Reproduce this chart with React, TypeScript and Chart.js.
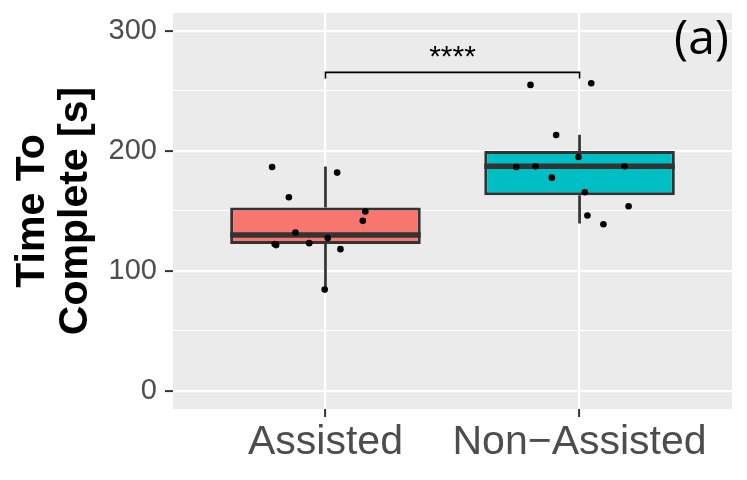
import React, { useEffect, useRef } from 'react';
import { Chart, registerables } from 'chart.js';

Chart.register(...registerables);

// ---- data ----
const CATEGORIES = ['Assisted', 'Non\u2212Assisted'];
const BOX_COLORS = ['#F8766D', '#00BFC4'];
const WHISKER_LOW = [84.5, 139.5];
const Q1 = [122.4, 163.2];
const MEDIAN = [130.0, 187.2];
const Q3 = [153.0, 200.0];
const WHISKER_HIGH = [187.0, 213.5];

const ASSISTED_X = [0.79, 0.856, 1.046, 1.157, 1.147, 0.882, 1.009, 0.8, 0.806, 0.936, 1.059, 0.997];
const ASSISTED_Y = [186.7, 161.5, 182.0, 149.6, 141.8, 132.1, 127.4, 122.4, 121.6, 123.2, 118.2, 84.5];
const NON_ASSISTED_X = [1.807, 2.046, 1.908, 1.996, 1.751, 1.827, 2.177, 1.891, 2.021, 2.193, 2.031, 2.094];
const NON_ASSISTED_Y = [255.1, 256.5, 213.3, 195.0, 186.7, 187.2, 187.2, 177.8, 165.6, 154.0, 146.3, 139.0];

const Y_MAJOR_TICKS = [0, 100, 200, 300];
const Y_MINOR_TICKS = [50, 150, 250];
const Y_MIN = -15;
const Y_MAX = 315;
const X_MIN = 0.4;
const X_MAX = 2.6;

const SIG_LABEL = '****';
const SIG_BRACKET_Y = 265.5;
const SIG_TIP_Y = 260.5;
const SIG_FROM = 1;
const SIG_TO = 2;
const PANEL_TAG = '(a)';
const Y_TITLE = ['Time To', 'Complete [s]'];

// ---- styles ----
const BOX_WIDTH = 0.75;
const DARK = '#333333';
const TICK_TEXT = '#4D4D4D';
const PANEL_BG = '#EBEBEB';

const App: React.FC = () => {
  const canvasRef = useRef<HTMLCanvasElement | null>(null);

  useEffect(() => {
    if (!canvasRef.current) return;

    const whiskerData: any[] = [];
    const medianData: any[] = [];
    CATEGORIES.forEach((_, i) => {
      const cx = i + 1;
      whiskerData.push({ x: cx, y: WHISKER_LOW[i] }, { x: cx, y: Q1[i] }, { x: cx, y: null });
      whiskerData.push({ x: cx, y: Q3[i] }, { x: cx, y: WHISKER_HIGH[i] }, { x: cx, y: null });
      medianData.push(
        { x: cx - BOX_WIDTH / 2, y: MEDIAN[i] },
        { x: cx + BOX_WIDTH / 2, y: MEDIAN[i] },
        { x: cx, y: null }
      );
    });

    const bgPlugin = {
      id: 'panelBg',
      beforeDraw(chart: any) {
        const { ctx, chartArea } = chart;
        ctx.save();
        ctx.fillStyle = PANEL_BG;
        ctx.fillRect(chartArea.left, chartArea.top, chartArea.right - chartArea.left, chartArea.bottom - chartArea.top);
        ctx.restore();
      },
      afterDatasetsDraw(chart: any) {
        const { ctx, chartArea, scales } = chart;
        ctx.save();
        ctx.fillStyle = '#000';
        ctx.font = '30px "Liberation Sans"';
        ctx.textAlign = 'center';
        ctx.textBaseline = 'alphabetic';
        ctx.fillText(
          SIG_LABEL,
          scales.x.getPixelForValue((SIG_FROM + SIG_TO) / 2),
          scales.y.getPixelForValue(SIG_BRACKET_Y) - 6
        );
        ctx.font = '48px "Open Sans"';
        ctx.textAlign = 'right';
        ctx.fillText(PANEL_TAG, chartArea.right - 3, chartArea.top + 41);
        ctx.restore();
      },
    };

    const chart = new Chart(canvasRef.current, {
      type: 'scatter',
      data: {
        datasets: [
          {
            type: 'line',
            data: whiskerData,
            borderColor: DARK,
            borderWidth: 2.7,
            pointRadius: 0,
            spanGaps: false,
            order: 5,
          } as any,
          {
            type: 'bar',
            data: CATEGORIES.map((_, i) => ({ x: i + 1, y: [Q1[i], Q3[i]] })),
            backgroundColor: BOX_COLORS,
            borderColor: DARK,
            borderWidth: 3,
            borderSkipped: false,
            categoryPercentage: BOX_WIDTH,
            barPercentage: 1,
            grouped: false,
            order: 4,
          } as any,
          {
            type: 'line',
            data: medianData,
            borderColor: DARK,
            borderWidth: 5.5,
            borderCapStyle: 'butt',
            pointRadius: 0,
            spanGaps: false,
            order: 3,
          } as any,
          {
            type: 'line',
            data: [
              { x: SIG_FROM, y: SIG_TIP_Y },
              { x: SIG_FROM, y: SIG_BRACKET_Y },
              { x: SIG_TO, y: SIG_BRACKET_Y },
              { x: SIG_TO, y: SIG_TIP_Y },
            ],
            borderColor: '#000000',
            borderWidth: 1.6,
            pointRadius: 0,
            order: 2,
          } as any,
          {
            type: 'scatter',
            data: ASSISTED_X.map((x, i) => ({ x, y: ASSISTED_Y[i] })),
            backgroundColor: '#000000',
            borderWidth: 0,
            pointRadius: 3.3,
            order: 1,
          } as any,
          {
            type: 'scatter',
            data: NON_ASSISTED_X.map((x, i) => ({ x, y: NON_ASSISTED_Y[i] })),
            backgroundColor: '#000000',
            borderWidth: 0,
            pointRadius: 3.3,
            order: 0,
          } as any,
        ],
      },
      options: {
        animation: false,
        responsive: true,
        maintainAspectRatio: false,
        events: [],
        layout: { padding: { top: 13, right: 15, left: 0, bottom: 0 } },
        plugins: {
          legend: { display: false },
          tooltip: { enabled: false },
        },
        scales: {
          x: {
            type: 'linear',
            min: X_MIN,
            max: X_MAX,
            offset: false,
            afterBuildTicks: (scale: any) => {
              scale.ticks = CATEGORIES.map((_, i) => ({ value: i + 1 }));
            },
            afterFit: (scale: any) => {
              scale.height = 71;
              scale.paddingLeft = 0;
              scale.paddingRight = 0;
            },
            border: { display: false },
            grid: {
              offset: false,
              color: '#FFFFFF',
              lineWidth: 2.2,
              drawTicks: true,
              tickLength: 8,
              tickWidth: 2,
              tickColor: DARK,
            },
            ticks: {
              autoSkip: false,
              maxRotation: 0,
              padding: 1,
              color: TICK_TEXT,
              font: { family: '"Liberation Sans"', size: 41 },
              callback: (v: any) => CATEGORIES[Math.round(Number(v)) - 1] ?? '',
            },
          },
          y: {
            type: 'linear',
            min: Y_MIN,
            max: Y_MAX,
            afterBuildTicks: (scale: any) => {
              scale.ticks = [...Y_MAJOR_TICKS, ...Y_MINOR_TICKS]
                .sort((a, b) => a - b)
                .map((value) => ({ value }));
            },
            afterFit: (scale: any) => {
              scale.width = 173;
              scale.paddingTop = 0;
              scale.paddingBottom = 0;
            },
            border: { display: false },
            grid: {
              color: '#FFFFFF',
              lineWidth: (c: any) => (Y_MAJOR_TICKS.includes(c.tick?.value) ? 2.2 : 1.1),
              drawTicks: true,
              tickLength: 8,
              tickWidth: 2,
              tickColor: (c: any) => (Y_MAJOR_TICKS.includes(c.tick?.value) ? DARK : 'rgba(0,0,0,0)'),
            },
            ticks: {
              autoSkip: false,
              padding: 8,
              color: TICK_TEXT,
              font: { family: '"Liberation Sans"', size: 29 },
              callback: (v: any) => (Y_MAJOR_TICKS.includes(Number(v)) ? String(v) : ''),
            },
            title: {
              display: true,
              text: Y_TITLE,
              color: '#000000',
              font: { family: '"Liberation Sans"', size: 41, weight: 'bold', lineHeight: 1.05 },
              padding: { top: 11, bottom: 0 },
            },
          },
        },
      } as any,
      plugins: [bgPlugin],
    });

    return () => {
      chart.destroy();
    };
  }, []);

  return (
    <div style={{ position: 'fixed', left: 0, top: 0, width: 747, height: 480, background: '#FFFFFF' }}>
      <canvas ref={canvasRef} />
    </div>
  );
};

export default App;
